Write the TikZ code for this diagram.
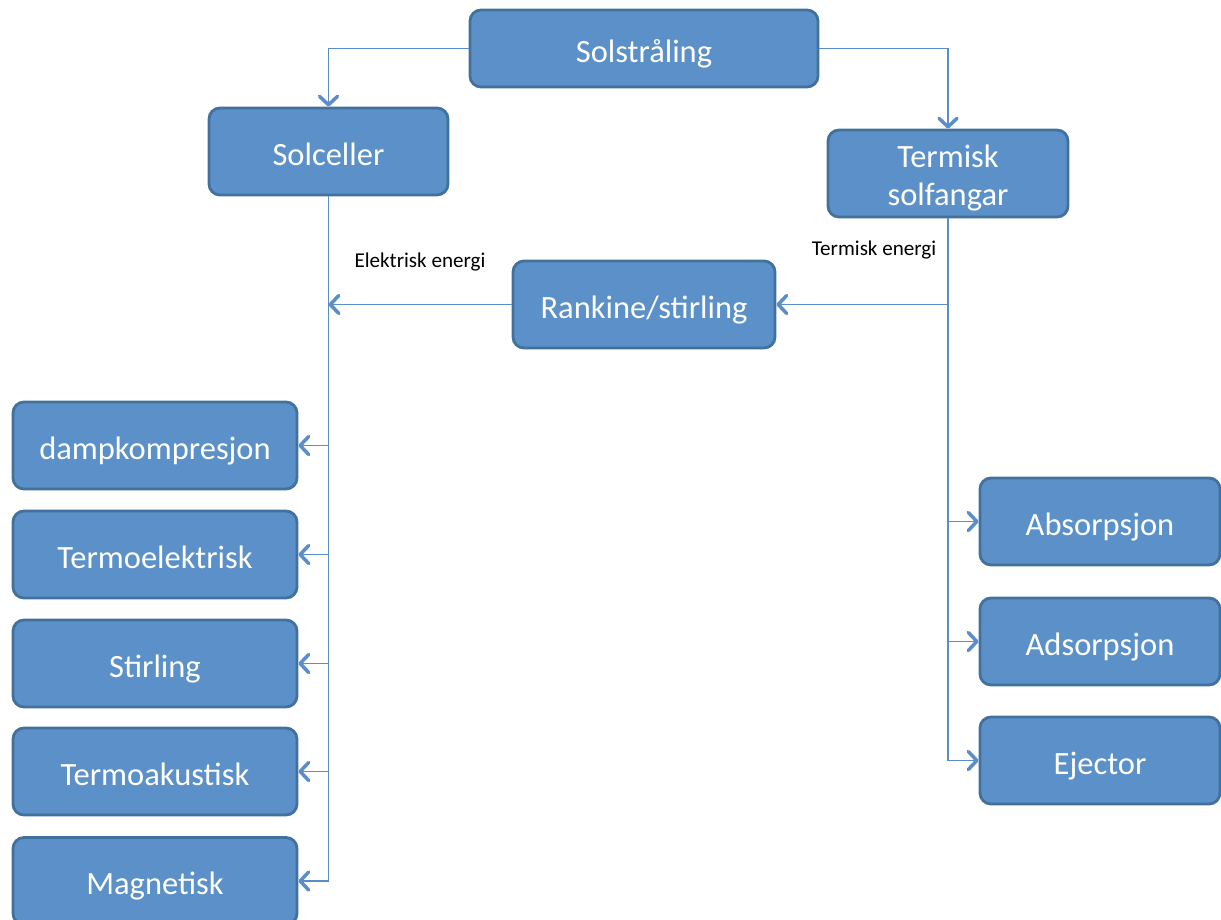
\documentclass[tikz,border=0pt]{standalone}
\usepackage{fontspec}
\setmainfont{Carlito}
\usepackage{tikz}
\usetikzlibrary{positioning, arrows.meta}

\definecolor{boxfill}{HTML}{5B90C8}
\definecolor{boxline}{HTML}{41719C}
\definecolor{connline}{HTML}{5B8EC8}

\begin{document}
\begin{tikzpicture}[x=0.2mm, y=-0.2mm,
    box/.style={draw=boxline, fill=boxfill, line width=1.6pt, rounded corners=2.2mm,
        text=white, align=center, minimum height=17.4mm, inner sep=0pt,
        text height=19.5pt, text depth=4pt,
        font=\fontsize{18.5}{22.1}\selectfont},
    leftbox/.style={box, minimum width=56.8mm},
    rightbox/.style={box, minimum width=48mm},
    conn/.style={draw=connline, line width=1pt,
        -{Straight Barb[length=1.7mm, width=3.6mm, line width=2pt, round]}},
    lbl/.style={font=\fontsize{12}{14}\selectfont}]

\useasboundingbox (0,0) rectangle (1221,919);

% --- Top level ---
\node[box, minimum width=69.6mm, minimum height=15.4mm] (sol) at (644,48.5) {Solstråling};

\node[box, minimum width=47.8mm] (celle) at (328.5,151.5) {Solceller};
\node[box, minimum width=48mm, text height=40.8pt, text depth=4pt] (term) at (948,173.5) {Termisk\\solfangar};

\node[box, minimum width=52.4mm] (rank) at (644,304.5) {Rankine/stirling};

% --- Left column (electric) ---
\node[leftbox] (damp) at (155,445.5) {dampkompresjon};
\node[leftbox] (telek) at (155,554.5) {Termoelektrisk};
\node[leftbox] (stirl) at (155,663.5) {Stirling};
\node[leftbox] (takus) at (155,771.5) {Termoakustisk};
\node[leftbox] (magn) at (155,881) {Magnetisk};

% --- Right column (thermal) ---
\node[rightbox] (absor) at (1100,521.5) {Absorpsjon};
\node[rightbox] (adsor) at (1100,641.5) {Adsorpsjon};
\node[rightbox] (eject) at (1100,760.5) {Ejector};

% --- Labels ---
\node[lbl] (elabel) at (420,262) {Elektrisk energi};
\node[lbl] (tlabel) at (874,250) {Termisk energi};

% --- Connectors ---
\draw[conn] (sol.west) -| (celle.north);
\draw[conn] (sol.east) -| (term.north);

% electric trunk
\draw[conn] (celle.south) |- (magn.east);
\draw[conn] (celle.south |- damp.east) -- (damp.east);
\draw[conn] (celle.south |- telek.east) -- (telek.east);
\draw[conn] (celle.south |- stirl.east) -- (stirl.east);
\draw[conn] (celle.south |- takus.east) -- (takus.east);

% thermal trunk
\draw[conn] (term.south) |- (eject.west);
\draw[conn] (term.south |- absor.west) -- (absor.west);
\draw[conn] (term.south |- adsor.west) -- (adsor.west);
\draw[conn] (term.south |- rank.east) -- (rank.east);

% Rankine/stirling to electric trunk
\draw[conn] (rank.west) -- (rank.west -| celle.south);

\end{tikzpicture}
\end{document}
